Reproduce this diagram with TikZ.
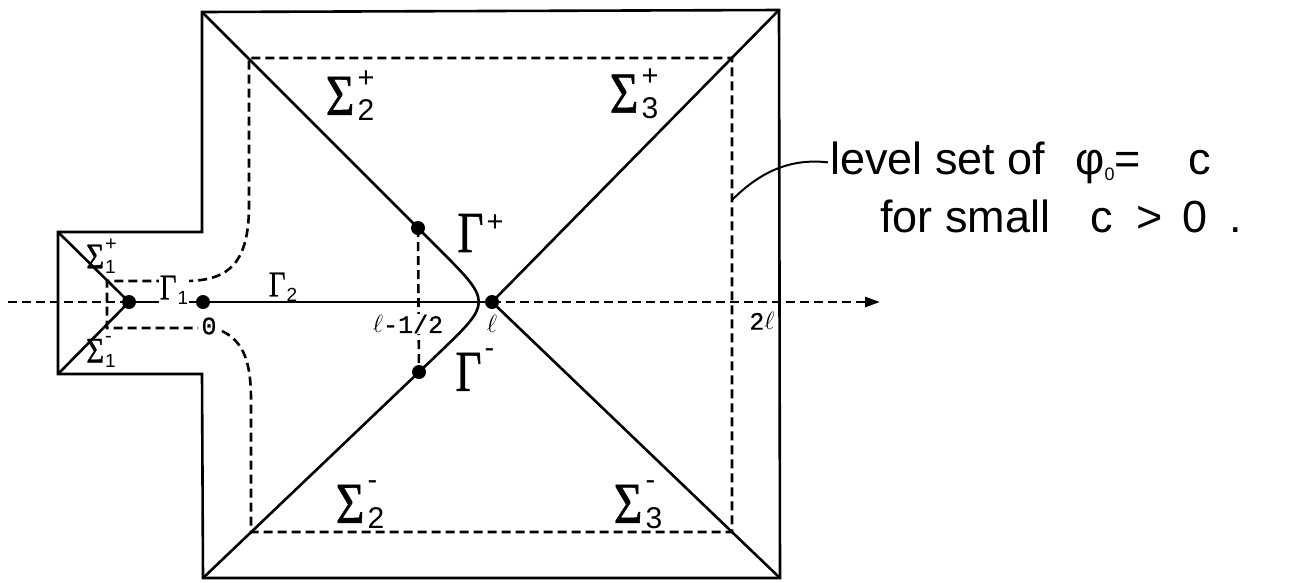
\documentclass[tikz,border=0pt]{standalone}
\usepackage{fontspec}
\usepackage{graphicx}
\setmainfont{Liberation Sans}
\newfontfamily\serifg[FakeBold=0.9]{Liberation Serif}
\newfontfamily\monof[FakeBold=0.8]{Liberation Mono}
\usetikzlibrary{arrows.meta}
% big label: glyph, x-scale, sup, sup raise, sub
\newcommand{\BigLab}[5]{{\fontsize{58}{58}\selectfont\serifg\scalebox{#2}[1]{#1}}\kern3pt%
  \makebox[0pt][l]{\raisebox{#4}{\fontsize{29}{29}\selectfont #3}}%
  \raisebox{-6pt}{\fontsize{30}{30}\selectfont #5}}
\newcommand{\SmallLab}[5]{{\fontsize{36}{36}\selectfont\serifg\scalebox{#2}[1]{#1}}\kern1pt%
  \makebox[0pt][l]{\raisebox{#4}{\fontsize{20}{20}\selectfont #3}}%
  \raisebox{-5pt}{\fontsize{19}{19}\selectfont #5}}
\begin{document}
\begin{tikzpicture}[x=1pt,y=-1pt,
  solidline/.style={line width=2.6pt},
  dashline/.style={line width=2.6pt, dash pattern=on 9pt off 5pt},
  dotnode/.style={circle, fill=black, inner sep=0pt, minimum size=14pt},
  lab/.style={inner sep=1pt},
  monolab/.style={inner sep=1pt, fill=white, font=\fontsize{25}{25}\selectfont\monof},
  maintext/.style={inner sep=2pt, font=\fontsize{45}{45}\selectfont}]
\useasboundingbox (0,0) rectangle (1296,582);
% outline corners
\coordinate (TL) at (202,12);
\coordinate (TR) at (779,10);
\coordinate (BR) at (780,578);
\coordinate (BL) at (203,578);
\coordinate (PTa) at (202,232);
\coordinate (PTL) at (58,232);
\coordinate (PBL) at (58,374);
\coordinate (PBa) at (202,374);
\draw[solidline, line join=miter] (TL) -- (TR) -- (BR) -- (BL) -- (PBa) -- (PBL) -- (PTL) -- (PTa) -- cycle;
% dots
\node[dotnode] (A) at (129,302) {};
\node[dotnode] (O) at (203,302) {};
\node[dotnode] (L) at (492,302) {};
\node[dotnode] (Gp) at (418,228) {};
\node[dotnode] (Gm) at (419,372) {};
% axis
\coordinate (ax0) at (8,302);
\coordinate (ax1) at (880,302);
\draw[dashline] (ax0) -- (A.center);
\draw[solidline] (A.center) -- (O.center) -- (L.center);
\draw[dashline, -{Triangle[length=15pt,width=10pt]}] (L.center) -- (ax1);
% diagonals
\draw[solidline] (TR) -- (L.center) -- (BR);
\draw[solidline] (TL) -- (Gp.center) -- (438,248) .. controls (L.center) and (L.center) .. (440,352) -- (Gm.center) -- (BL);
\draw[solidline] (PTL) -- (A.center) -- (PBL);
% level set
\draw[dashline] (222,331) .. controls (245,342) and (251,365) .. (251,400) -- (251,532) -- (732,532) -- (732,58) -- (249,58) -- (249,205)
  .. controls (249,262) and (230,281) .. (185,281) -- (107,281) -- (107,328) -- (198,328);
\draw[dashline] (Gp.center) -- (Gm.center);
% leader
\coordinate (lv) at (732,200);
\node[maintext, anchor=base west] (t1) at (828,174) {level set of\hspace{30pt}φ\raisebox{-6pt}{\fontsize{18}{18}\selectfont 0}=\hspace{48pt}c};
\node[maintext, anchor=base west] (t2) at (878,232) {for small\hspace{40pt}c\hspace{24pt}>\hspace{20pt}0\hspace{22pt}.};
\draw[line width=2pt] (lv) .. controls (760,172) and (790,158) .. (t1.west);
% labels
\node[lab] (S2p) at (350,96) {\BigLab{Σ}{0.85}{+}{27pt}{2}};
\node[lab] (S3p) at (634,94) {\BigLab{Σ}{0.85}{+}{27pt}{3}};
\node[lab] (S2m) at (360,505) {\BigLab{Σ}{0.85}{-}{33pt}{2}};
\node[lab] (S3m) at (638,505) {\BigLab{Σ}{0.85}{-}{33pt}{3}};
\node[lab] (GP) at (472,236) {\BigLab{Γ}{0.78}{+}{20pt}{}};
\node[lab] (GM) at (470,373) {\BigLab{Γ}{0.78}{-}{33pt}{}};
\node[lab] (S1p) at (101,256) {\SmallLab{Σ}{0.85}{+}{18pt}{1}};
\node[lab] (S1m) at (101,352) {\SmallLab{Σ}{0.85}{-}{20pt}{1}};
\node[lab, fill=white] (G1) at (174,290) {\SmallLab{Γ}{0.8}{}{0pt}{1}};
\node[lab] (G2) at (283,287) {\SmallLab{Γ}{0.8}{}{0pt}{2}};
\node[monolab] (l0) at (209,326) {0};
\node[monolab] (lhalf) at (408,324) {$\ell$-1/2};
\node[monolab] (ll) at (492,324) {$\ell$};
\node[monolab] (l2) at (762,321) {2$\ell$};
\end{tikzpicture}
\end{document}
